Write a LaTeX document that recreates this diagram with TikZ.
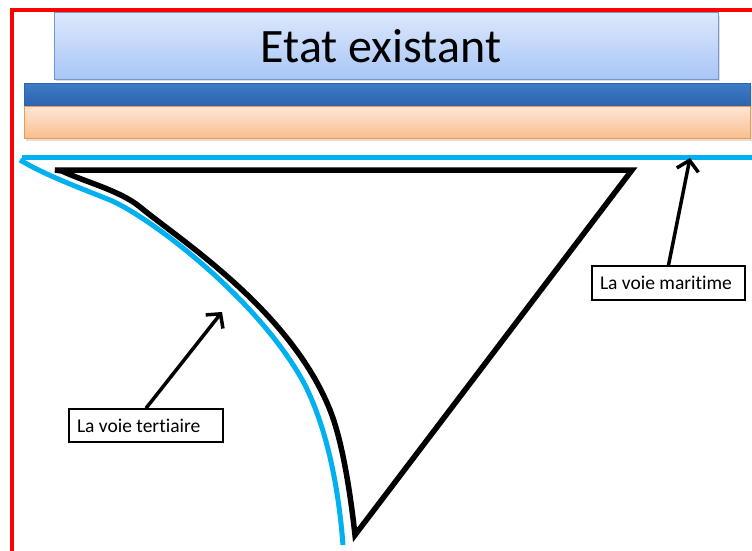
\documentclass[tikz,border=0pt]{standalone}
\usepackage{fontspec}
\setmainfont[Ligatures=NoCommon]{Carlito}
\usetikzlibrary{arrows.meta}
\definecolor{titletop}{RGB}{220,232,252}
\definecolor{titlebot}{RGB}{168,198,246}
\definecolor{titleedge}{RGB}{120,150,200}
\definecolor{bluetop}{RGB}{60,124,200}
\definecolor{bluebot}{RGB}{46,100,172}
\definecolor{ortop}{RGB}{253,231,216}
\definecolor{orbot}{RGB}{250,190,142}
\definecolor{oredge}{RGB}{247,150,70}
\definecolor{cyanl}{RGB}{0,176,240}
\newcommand{\lbltext}[2]{\makebox[#1][l]{#2}}
\tikzset{
  lbl/.style={draw=black, line width=1.5pt, fill=white, rectangle, inner xsep=8pt, inner ysep=0pt,
    minimum height=33pt, font=\fontsize{19.5}{22}\selectfont},
  pointer/.style={draw=black, line width=3.5pt, -{Straight Barb[length=10pt,width=22pt]}},
  shadowc/.style={fill=black!12}
}
\begin{document}
\begin{tikzpicture}[x=1pt,y=-1pt]
\useasboundingbox (0,0) rectangle (752,551);
\fill[white] (0,0) rectangle (752,551);
% title box
\fill[shadowc] (56,16) rectangle (720,81);
\shadedraw[top color=titletop, bottom color=titlebot, draw=titleedge, line width=1pt] (54,13) rectangle (718,79);
\node[font=\fontsize{48}{54}\selectfont, inner sep=0pt] (title) at (381,46) {Etat existant};
% bars
\fill[shadowc] (26,86) rectangle (752,141);
\shadedraw[top color=bluetop, bottom color=bluebot, draw=bluebot, line width=0.5pt] (24,83) rectangle (750,106);
\shadedraw[top color=ortop, bottom color=orbot, draw=oredge, line width=1pt] (24,106) rectangle (750,138);
% red border
\draw[red, line width=4pt, line join=miter] (752,10) -- (12,10) -- (12,551);
% cyan lines
\draw[cyanl, line width=5pt] (22,157) -- (752,157);
\draw[cyanl, line width=5pt] (20,160) .. controls (45,175) and (80,188) .. (110,200)
  .. controls (150,217) and (260,300) .. (305,385)
  .. controls (325,425) and (338,480) .. (343,545);
% black shape
\draw[black, line width=5.5pt, line join=miter] (55,170) -- (632,170) -- (355,535)
  .. controls (350,490) and (342,440) .. (330,410)
  .. controls (290,310) and (180,240) .. (140,207)
  .. controls (120,190.5) and (85,182) .. (62,171) -- cycle;
% labels
\node[lbl] (ter) at (146,425.5) {\lbltext{138pt}{La voie tertiaire}};
\node[lbl, minimum height=34pt] (mar) at (668.5,283) {\lbltext{137pt}{La voie maritime}};
\coordinate (tipT) at (222,312);
\coordinate (tipM) at (690,158);
\draw[pointer] (ter.north) -- (tipT);
\draw[pointer] (mar.north) -- (tipM);
\end{tikzpicture}
\end{document}
